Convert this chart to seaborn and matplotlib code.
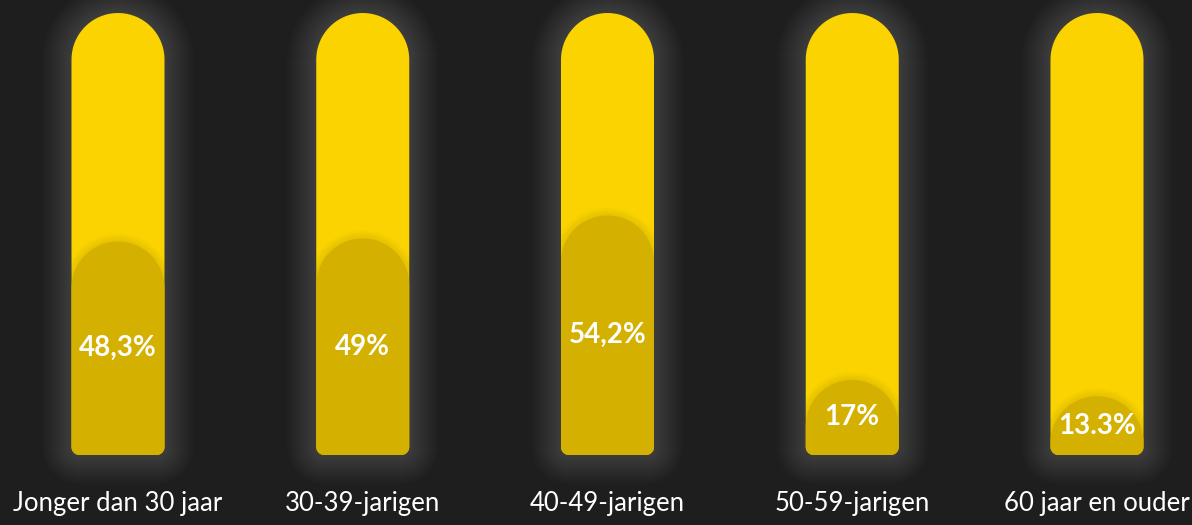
import numpy as np
import matplotlib
matplotlib.use("Agg")
import matplotlib.pyplot as plt
from matplotlib.path import Path
from matplotlib.patches import PathPatch
import seaborn as sns

# =========================
# DATA
# =========================
categories = ["Jonger dan 30 jaar", "30-39-jarigen", "40-49-jarigen",
              "50-59-jarigen", "60 jaar en ouder"]
values = [48.3, 49.0, 54.2, 17.0, 13.3]
value_labels = ["48,3%", "49%", "54,2%", "17%", "13.3%"]
track = [100, 100, 100, 100, 100]

BG = "#1e1e1e"
TRACK = "#fbd300"
FILL = "#d4b000"

sns.set_theme(style="dark")
plt.rcParams["font.family"] = ["Lato", "DejaVu Sans"]

W, H = 1192, 525
STEP = 244.75  # pixels between bar centres
fig = plt.figure(figsize=(W / 100, H / 100), dpi=100, facecolor=BG)
ax = fig.add_axes([0, 70 / H, 1, 442 / H])
ax.set_facecolor(BG)

sns.barplot(x=categories, y=track, color=TRACK, width=0.38, ax=ax)
track_bars = list(ax.patches)
sns.barplot(x=categories, y=values, color=FILL, width=0.38, ax=ax)
fill_bars = list(ax.patches[len(track_bars):])

x_left = -118 / STEP
ax.set_xlim(x_left, x_left + W / STEP)
ax.set_ylim(0, 100)
for s in ax.spines.values():
    s.set_visible(False)
ax.grid(False)
ax.set_yticks([])
ax.set_xlabel("")
ax.set_ylabel("")
ax.tick_params(axis="x", length=0, pad=26, colors="white", labelsize=18.5)

to_px = ax.transData.transform
to_data = ax.transData.inverted().transform


def pill_path(bar, grow=0.0, rb=8.0, n=40):
    """Rounded-top pill shape built from a bar patch, in data coords."""
    (x0, y0), (x1, y1) = to_px([(bar.get_x(), bar.get_y()),
                                (bar.get_x() + bar.get_width(),
                                 bar.get_y() + bar.get_height())])
    x0 -= grow; x1 += grow; y0 -= grow; y1 += grow
    rb = rb + grow
    rt = (x1 - x0) / 2
    xc = (x0 + x1) / 2
    pts = []
    t = np.linspace(np.pi, 0, n)
    pts += list(zip(xc + rt * np.cos(t), y1 - rt + rt * np.sin(t)))
    t = np.linspace(0, -np.pi / 2, n // 3)
    pts += list(zip(x1 - rb + rb * np.cos(t), y0 + rb + rb * np.sin(t)))
    t = np.linspace(-np.pi / 2, -np.pi, n // 3)
    pts += list(zip(x0 + rb + rb * np.cos(t), y0 + rb + rb * np.sin(t)))
    pts.append(pts[0])
    return Path(to_data(np.array(pts)), closed=True)


for tb, fb, lab in zip(track_bars, fill_bars, value_labels):
    tb.set_visible(False)
    fb.set_visible(False)
    # soft glow around the bar
    for g in range(1, 31):
        ax.add_patch(PathPatch(pill_path(tb, grow=g), facecolor="white",
                               edgecolor="none", alpha=0.007, zorder=1,
                               clip_on=False))
    outer = PathPatch(pill_path(tb), facecolor=TRACK, edgecolor="none",
                      zorder=2, clip_on=False)
    ax.add_patch(outer)
    # faint shadow above the inner fill
    for g in range(1, 9):
        sh = PathPatch(pill_path(fb, grow=g), facecolor="#8a7000",
                       edgecolor="none", alpha=0.018, zorder=3)
        ax.add_patch(sh)
        sh.set_clip_path(outer)
    inner = PathPatch(pill_path(fb), facecolor=FILL, edgecolor="none",
                      zorder=4, clip_on=False)
    ax.add_patch(inner)
    ax.text(fb.get_x() + fb.get_width() / 2, fb.get_height() / 2, lab,
            ha="center", va="center", color="white", fontsize=20,
            fontweight="bold", zorder=5)

fig.savefig("out.png", dpi=100, facecolor=BG)
